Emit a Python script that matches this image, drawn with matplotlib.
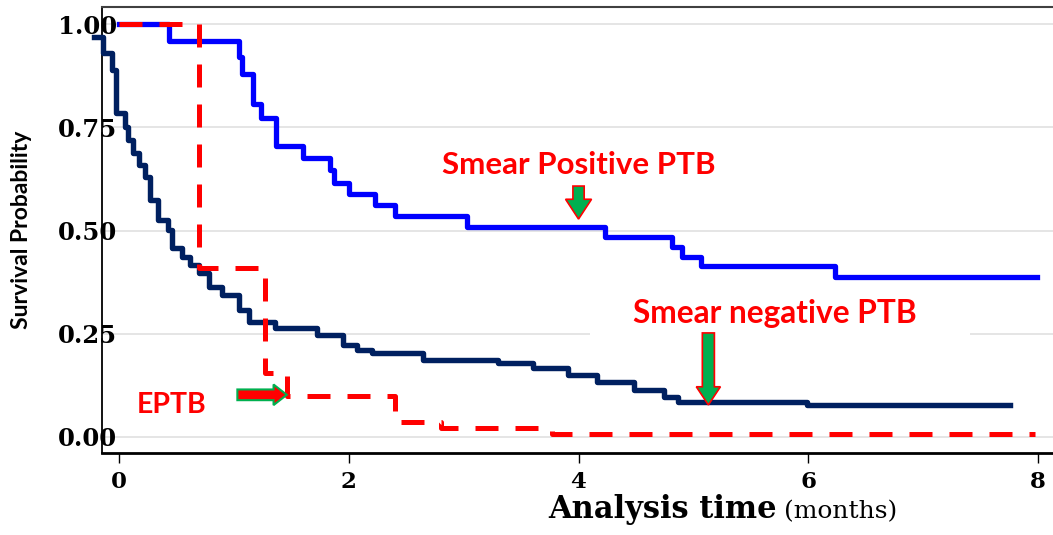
import matplotlib
matplotlib.use("Agg")
import matplotlib.pyplot as plt
from matplotlib.patches import FancyArrow, Rectangle

# Kaplan-Meier step data
time_pos = [0, 0.435, 1.04, 1.07, 1.17, 1.24, 1.37, 1.60, 1.84, 1.87, 2.0, 2.23,
            2.40, 3.03, 4.23, 4.81, 4.90, 5.07, 6.23, 7.99]
surv_pos = [1.0, 0.959, 0.92, 0.88, 0.807, 0.773, 0.705, 0.677, 0.647, 0.615, 0.588,
            0.562, 0.535, 0.508, 0.484, 0.46, 0.436, 0.414, 0.388, 0.388]

time_neg = [-0.22, -0.14, -0.06, -0.03, 0.05, 0.08, 0.12, 0.17, 0.23, 0.27, 0.34,
            0.43, 0.46, 0.55, 0.62, 0.70, 0.78, 0.90, 1.04, 1.13, 1.36, 1.72, 1.95,
            2.07, 2.2, 2.65, 3.3, 3.6, 3.91, 4.16, 4.48, 4.74, 4.87, 5.99, 7.76]
surv_neg = [0.969, 0.93, 0.889, 0.785, 0.751, 0.72, 0.688, 0.659, 0.63, 0.574, 0.526,
            0.501, 0.458, 0.436, 0.417, 0.397, 0.363, 0.344, 0.308, 0.279, 0.264,
            0.247, 0.223, 0.211, 0.203, 0.187, 0.179, 0.167, 0.15, 0.133, 0.114,
            0.097, 0.085, 0.078, 0.078]

time_ep = [0, 0.70, 1.27, 1.46, 2.4, 2.8, 3.77, 7.97]
surv_ep = [1.0, 0.41, 0.155, 0.10, 0.036, 0.022, 0.008, 0.008]

xticks = [0, 2, 4, 6, 8]
yticks = [0.0, 0.25, 0.5, 0.75, 1.0]
ytick_labels = ["0.00", "0.25", "0.50", "0.75", "1.00"]

fig = plt.figure(figsize=(10.53, 5.35), dpi=100)
ax = fig.add_axes([0.0969, 0.1533, 0.9031, 0.8336])

ax.set_xlim(-0.148, 8.13)
ax.set_ylim(-0.039, 1.042)

ax.yaxis.grid(True, color="#e3e3e3", lw=1.3, zorder=0)
ax.set_axisbelow(True)

# white box behind the "Smear negative PTB" label (hides grid line)
ax.add_patch(Rectangle((4.1, 0.235), 3.31, 0.12, facecolor="white",
                       edgecolor="none", zorder=1))

ax.step(time_pos, surv_pos, where="post", color="#0000FF", lw=3.8, zorder=3)
ax.step(time_neg, surv_neg, where="post", color="#002060", lw=3.9, zorder=3,
        clip_on=False)
ax.step(time_ep, surv_ep, where="post", color="#FF0000", lw=3.6, zorder=4,
        dashes=(4.6, 3.4))

# annotations
sans = ["Lato", "DejaVu Sans"]
ax.text(4.0, 0.659, "Smear Positive PTB", color="#FF0000", fontsize=22.5,
        fontweight="bold", family=sans, ha="center", va="center", zorder=5)
ax.text(5.71, 0.30, "Smear negative PTB", color="#FF0000", fontsize=22.8,
        fontweight="bold", family=sans, ha="center", va="center", zorder=5)
ax.text(0.46, 0.078, "EPTB", color="#FF0000", fontsize=20.5,
        fontweight="bold", family=sans, ha="center", va="center", zorder=5)

ax.add_patch(FancyArrow(4.0, 0.608, 0, -0.080, width=0.098, head_width=0.226,
                        head_length=0.048, length_includes_head=True,
                        facecolor="#00B050", edgecolor="#FF0000", lw=1.2, zorder=6))
ax.add_patch(FancyArrow(5.13, 0.252, 0, -0.1745, width=0.105, head_width=0.21,
                        head_length=0.044, length_includes_head=True,
                        facecolor="#00B050", edgecolor="#FF0000", lw=1.2, zorder=6))
ax.add_patch(FancyArrow(1.03, 0.102, 0.43, 0, width=0.026, head_width=0.05,
                        head_length=0.115, length_includes_head=True,
                        facecolor="#FF0000", edgecolor="#00B050", lw=1.5, zorder=6))

# axes styling
ax.spines["right"].set_visible(False)
ax.spines["top"].set_color("#404040")
ax.spines["top"].set_linewidth(1.5)
ax.spines["bottom"].set_linewidth(2)
ax.spines["left"].set_linewidth(1.3)

serif = "DejaVu Serif"
ax.set_xticks(xticks)
ax.set_xticklabels([str(t) for t in xticks], fontfamily=serif, fontweight="bold",
                   fontsize=16.5)
ax.set_yticks(yticks)
ax.set_yticklabels(ytick_labels, fontfamily=serif, fontweight="bold", fontsize=17.5)
ax.tick_params(axis="y", length=0, pad=-11)
ax.tick_params(axis="x", length=7, width=1, pad=6, direction="out")

fig.text(0.02, 0.57, "Survival Probability", rotation=90, fontsize=16.5,
         fontweight="bold", family=sans, ha="center", va="center")

fig.text(0.7375, 0.031, "Analysis time", fontsize=22, fontweight="bold",
         family=serif, ha="right", va="baseline")
fig.text(0.745, 0.031, "(months)", fontsize=18, family=serif, ha="left",
         va="baseline")

fig.savefig("out.png", dpi=100)
